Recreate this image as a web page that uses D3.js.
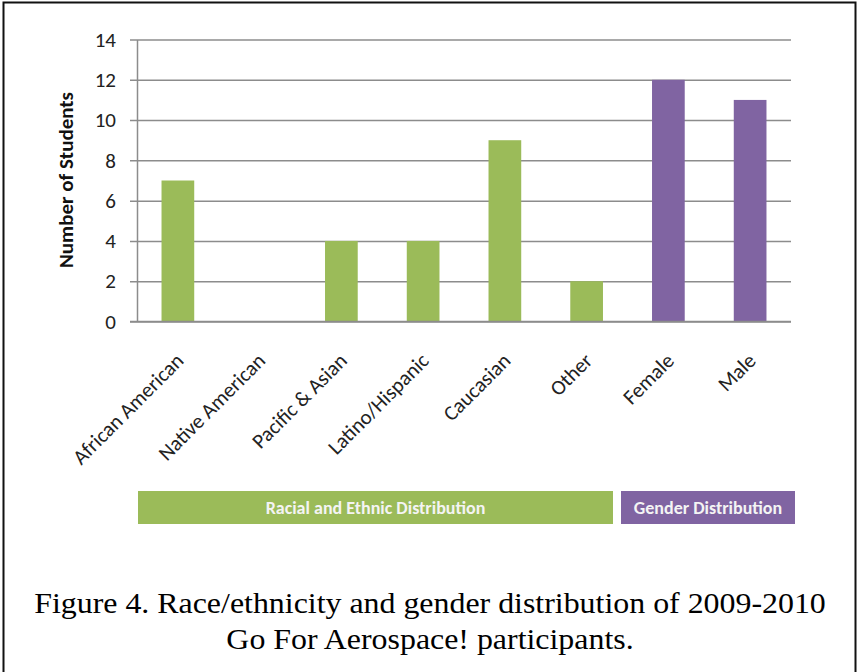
<!DOCTYPE html>
<html>
<head>
<meta charset="utf-8">
<script src="https://cdn.jsdelivr.net/npm/d3@7"></script>
<style>
  html, body { margin: 0; padding: 0; background: #fff; }
  svg { display: block; }
</style>
</head>
<body>
<svg id="chart" width="858" height="672"></svg>
<script>
// Participants by race/ethnicity and by gender
const categories = ["African American", "Native American", "Pacific & Asian", "Latino/Hispanic",
                    "Caucasian", "Other", "Female", "Male"];
const students   = [7, 0, 4, 4, 9, 2, 12, 11];
const groups     = ["race", "race", "race", "race", "race", "race", "gender", "gender"];
const yTicks     = [0, 2, 4, 6, 8, 10, 12, 14];
const groupNames = ["Racial and Ethnic Distribution", "Gender Distribution"];
const captionLines = ["Figure 4. Race/ethnicity and gender distribution of 2009-2010",
                      "Go For Aerospace! participants."];

const colors = { race: "#9bbb59", gender: "#8064a2" };
const uiFont = "Carlito, Calibri, Lato, 'Open Sans', sans-serif";

const svg = d3.select("#chart");

// frame around the figure
svg.append("rect")
  .attr("x", 3.5).attr("y", 2.5)
  .attr("width", 852).attr("height", 680)
  .attr("fill", "none").attr("stroke", "#111").attr("stroke-width", 2);

const plotLeft = 137, plotRight = 791, plotTop = 39.5, plotBottom = 321.5;

const x = d3.scaleBand()
  .domain(categories)
  .range([plotLeft, plotRight])
  .paddingInner(0.6)
  .paddingOuter(0.3);

const y = d3.scaleLinear().domain([0, 14]).range([plotBottom, plotTop]);

// horizontal gridlines with short ticks left of the axis
const yAxis = d3.axisLeft(y)
  .tickValues(yTicks)
  .tickSize(-(plotRight - plotLeft))
  .tickSizeOuter(0)
  .tickPadding(21);

const gy = svg.append("g")
  .attr("transform", `translate(${plotLeft},0)`)
  .call(yAxis);
gy.select(".domain").attr("stroke", "#8c8c8c").attr("stroke-width", 1.5);
gy.selectAll(".tick line")
  .attr("x1", -7)
  .attr("stroke", "#8c8c8c").attr("stroke-width", 1.5);
gy.selectAll(".tick text")
  .attr("font-family", uiFont).attr("font-size", 21).attr("fill", "#222");

// bars
svg.append("g").selectAll("rect")
  .data(categories)
  .join("rect")
  .attr("x", d => x(d))
  .attr("width", x.bandwidth())
  .attr("y", (d, i) => y(students[i]))
  .attr("height", (d, i) => y(0) - y(students[i]))
  .attr("fill", (d, i) => colors[groups[i]]);

// baseline axis (drawn over the bars' bottoms)
const xAxis = d3.axisBottom(x).tickSize(0).tickSizeOuter(0).tickFormat("");
const gx = svg.append("g").attr("transform", `translate(0,${plotBottom})`).call(xAxis);
gx.select(".domain").attr("stroke", "#8c8c8c").attr("stroke-width", 1.5)
  .attr("d", `M${plotLeft - 7},0H${plotRight}`);

// rotated category labels
svg.append("g").selectAll("text")
  .data(categories)
  .join("text")
  .attr("transform", d => `translate(${x(d) + x.bandwidth() / 2 + 7},362) rotate(-45)`)
  .attr("text-anchor", "end")
  .attr("font-family", uiFont).attr("font-size", 21).attr("fill", "#222")
  .text(d => d);

// y-axis title
svg.append("text")
  .attr("transform", "translate(73,180) rotate(-90)")
  .attr("text-anchor", "middle")
  .attr("font-family", uiFont).attr("font-size", 21).attr("font-weight", "bold")
  .attr("fill", "#111")
  .text("Number of Students");

// group bands under the axis
const groupSpans = [
  { name: groupNames[0], key: "race",   x0: 138, x1: 613 },
  { name: groupNames[1], key: "gender", x0: 621, x1: 795 }
];
const band = svg.append("g").selectAll("g").data(groupSpans).join("g");
band.append("rect")
  .attr("x", d => d.x0).attr("y", 491)
  .attr("width", d => d.x1 - d.x0).attr("height", 33)
  .attr("fill", d => colors[d.key]);
band.append("text")
  .attr("x", d => (d.x0 + d.x1) / 2).attr("y", 514)
  .attr("text-anchor", "middle")
  .attr("font-family", uiFont).attr("font-size", 18).attr("font-weight", 600)
  .attr("fill", "#f4f4f4")
  .text(d => d.name);

// caption, slightly widened serif lines
svg.append("g").selectAll("text")
  .data(captionLines)
  .join("text")
  .attr("transform", (d, i) => `translate(430,${613 + i * 36}) scale(1.1,1)`)
  .attr("text-anchor", "middle")
  .attr("font-family", "'Liberation Serif', 'Times New Roman', serif")
  .attr("font-size", 29).attr("fill", "#000")
  .text(d => d);
</script>
</body>
</html>
